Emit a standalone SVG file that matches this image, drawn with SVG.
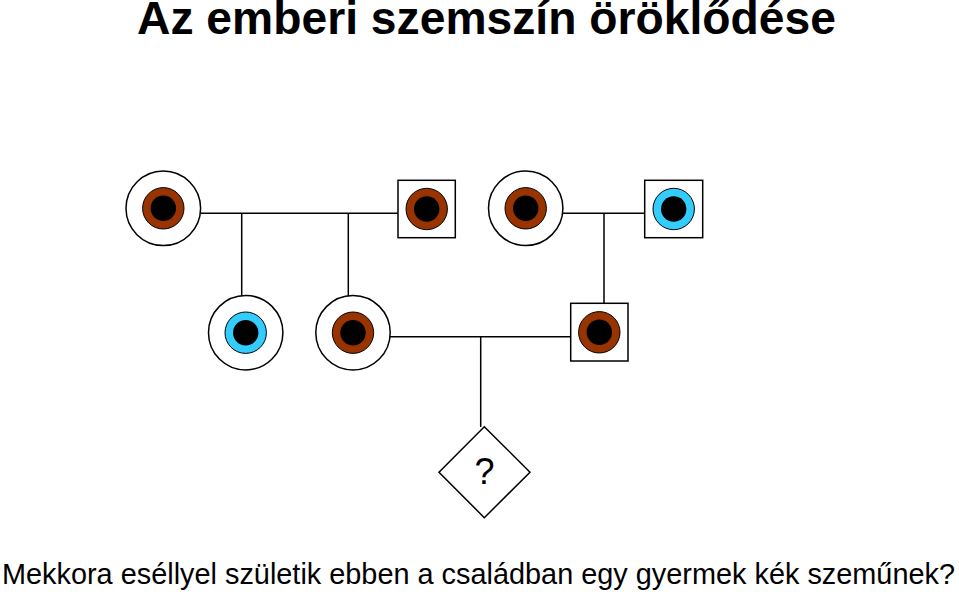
<svg xmlns="http://www.w3.org/2000/svg" width="959" height="594" viewBox="0 0 959 594">
<style>
.o{fill:#fff;stroke:#000;stroke-width:1.5}
.br{fill:#993300;stroke:#000;stroke-width:1}
.bl{fill:#33CCFF;stroke:#000;stroke-width:1}
.p{fill:#000}
.ln{stroke:#000;stroke-width:1.5;fill:none}
text{font-family:"Liberation Sans",Arial,sans-serif;fill:#000}
</style>
<rect width="959" height="594" fill="#fff"/>
<text x="486.5" y="34" font-size="46" font-weight="bold" text-anchor="middle" textLength="699" lengthAdjust="spacingAndGlyphs">Az emberi szemszín öröklődése</text>
<g id="connectors">
<path class="ln" d="M200.5,213.3H398M241.7,213.3V296M348.3,213.3V296"/>
<path class="ln" d="M562.7,213.3H644.7M604,213.3V303.3"/>
<path class="ln" d="M390,336.7H570.7M480.7,336.7V427"/>
</g>
<g id="n1"><circle class="o" cx="163.3" cy="208.3" r="37.3"/><circle class="br" cx="163.3" cy="208.3" r="20.7"/><circle class="p" cx="163.3" cy="208.3" r="12.7"/></g>
<g id="n2"><rect class="o" x="398" y="180.3" width="57.3" height="57.4"/><circle class="br" cx="426.7" cy="209" r="20.7"/><circle class="p" cx="426.7" cy="209" r="12.7"/></g>
<g id="n3"><circle class="o" cx="525.7" cy="208.3" r="37.2"/><circle class="br" cx="525.7" cy="208.3" r="20.7"/><circle class="p" cx="525.7" cy="208.3" r="12.7"/></g>
<g id="n4"><rect class="o" x="644.7" y="180.3" width="58" height="57.4"/><circle class="bl" cx="673.7" cy="209" r="20.7"/><circle class="p" cx="673.7" cy="209" r="12.7"/></g>
<g id="n5"><circle class="o" cx="245.7" cy="332.7" r="37.2"/><circle class="bl" cx="245.7" cy="332.7" r="20.7"/><circle class="p" cx="245.7" cy="332.7" r="12.7"/></g>
<g id="n6"><circle class="o" cx="353" cy="332.7" r="37.2"/><circle class="br" cx="353" cy="332.7" r="20.7"/><circle class="p" cx="353" cy="332.7" r="12.7"/></g>
<g id="n7"><rect class="o" x="570.7" y="303.3" width="57.3" height="57.7"/><circle class="br" cx="599.3" cy="332.3" r="20.7"/><circle class="p" cx="599.3" cy="332.3" r="12.7"/></g>
<g id="n8"><polygon class="o" points="484.3,426.7 530,472.2 484.3,517.7 439,472.2"/><text x="484.5" y="484" font-size="36" text-anchor="middle">?</text></g>
<text x="478.5" y="584" font-size="29" text-anchor="middle" textLength="953" lengthAdjust="spacingAndGlyphs">Mekkora eséllyel születik ebben a családban egy gyermek kék szeműnek?</text>
</svg>
